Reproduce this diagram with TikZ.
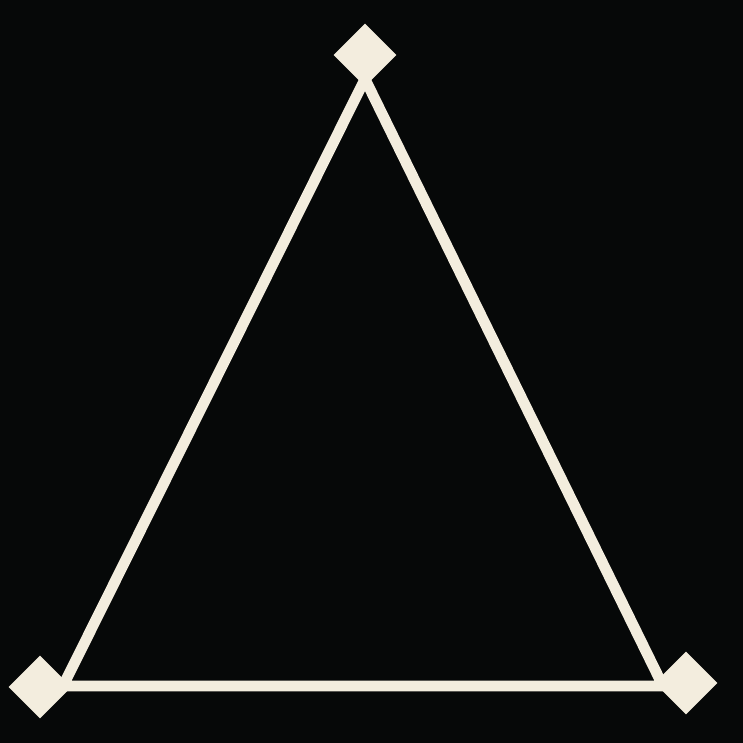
\documentclass[tikz,border=0pt]{standalone}
\usepackage{tikz}
\definecolor{bg}{RGB}{6,8,8}
\definecolor{cream}{RGB}{243,237,222}

\begin{document}
\begin{tikzpicture}
  [x=0.02cm, y=-0.02cm, line width=0.215cm]
    \fill[bg] (0,0) rectangle (743,743);
    \foreach \num/\x/\y in {t/365/79,l/63/686,r/663/686}{
      \coordinate (v\num) at (\x,\y); }
    \draw[cream, line join=miter] (vt) -- (vl) -- (vr) -- cycle;
    \foreach \num/\x/\y in {t/365/55,l/40/687,r/686/683}{
      \node[rectangle,fill=cream,rotate=45,inner sep=0pt, minimum size=0.89cm]
      (d\num) at (\x,\y) {};}
  \end{tikzpicture}
\end{document}
